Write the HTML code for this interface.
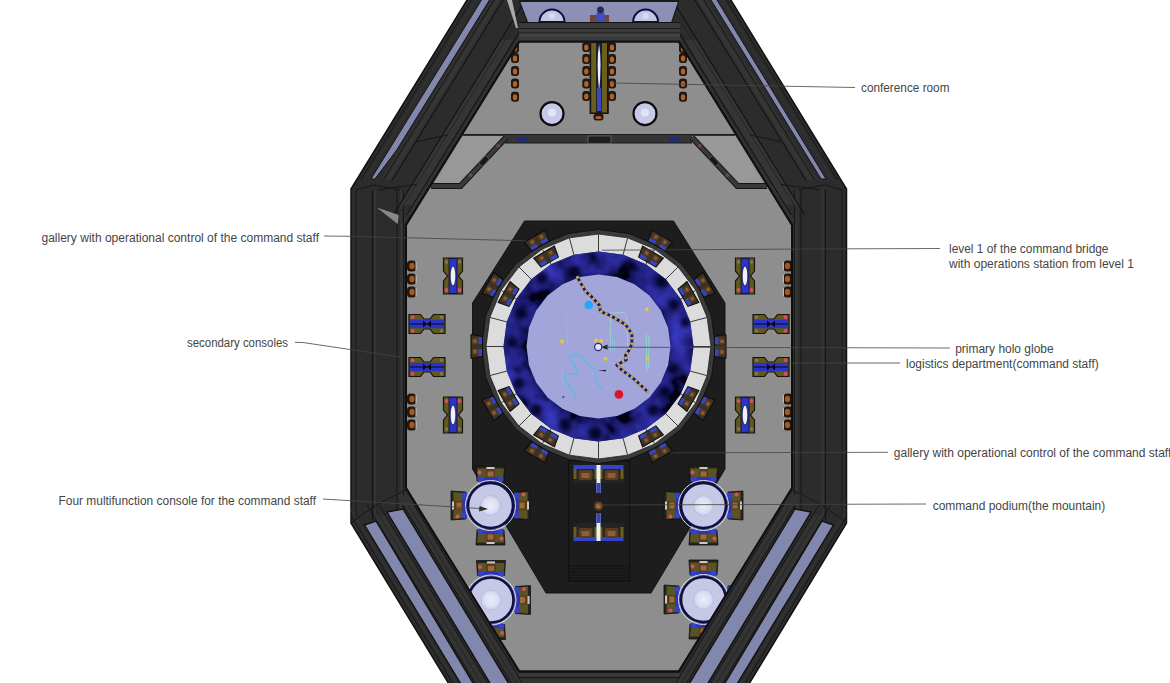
<!DOCTYPE html>
<html><head><meta charset="utf-8"><style>
html,body{margin:0;padding:0;background:#fff;width:1170px;height:683px;overflow:hidden}
svg{display:block}
text{font-family:"Liberation Sans",sans-serif;font-size:12px;fill:#454545}
</style></head><body>
<svg width="1170" height="683" viewBox="0 0 1170 683">
<defs>
<filter id="blur4" x="-30%" y="-30%" width="160%" height="160%"><feGaussianBlur stdDeviation="4"/></filter>
<filter id="blur2" x="-30%" y="-30%" width="160%" height="160%"><feGaussianBlur stdDeviation="2"/></filter>
<filter id="blur1" x="-30%" y="-30%" width="160%" height="160%"><feGaussianBlur stdDeviation="0.7"/></filter>
<radialGradient id="discg"><stop offset="0" stop-color="#eceef9"/><stop offset="0.6" stop-color="#dfe1f4"/><stop offset="1" stop-color="#ccd0ec"/></radialGradient>
</defs>
<rect width="1170" height="683" fill="#fff"/>
<polygon points="519,42 679,42 792,225 792,488 679,671 519,671 406,488 406,225" fill="#8e8e8e" stroke="none" stroke-width="1" />
<rect x="463" y="134" width="272" height="1.8" fill="#1b1b1b" stroke="none" stroke-width="1" />
<rect x="505" y="135" width="187" height="7.5" fill="#353535" stroke="none" stroke-width="1" />
<line x1="505" y1="142.8" x2="692" y2="142.8" stroke="#161616" stroke-width="1.2" />
<rect x="589.6" y="42" width="19.2" height="72" fill="#121212" stroke="none" stroke-width="1" />
<rect x="591.2" y="43" width="5.2" height="69.5" fill="#6b5f1c" stroke="none" stroke-width="1" />
<rect x="601.8" y="43" width="5.2" height="69.5" fill="#6b5f1c" stroke="none" stroke-width="1" />
<rect x="596.4" y="43" width="5.4" height="69.5" fill="#1a1a40" stroke="none" stroke-width="1" />
<path d="M599.1,44 Q602,62 599.1,92 Q596.2,62 599.1,44Z" fill="#eef0ff"/>
<rect x="597" y="88" width="4.2" height="23" fill="#3a47c0" stroke="none" stroke-width="1" />
<g transform="translate(586.3,47) rotate(0)"><rect x="-4" y="-5" width="8" height="10" fill="#22160e" rx="3"/><ellipse cx="0" cy="0.5" rx="2.2" ry="3" fill="#b0642a"/></g>
<g transform="translate(612,47) rotate(0)"><rect x="-4" y="-5" width="8" height="10" fill="#22160e" rx="3"/><ellipse cx="0" cy="0.5" rx="2.2" ry="3" fill="#b0642a"/></g>
<g transform="translate(586.3,59) rotate(0)"><rect x="-4" y="-5" width="8" height="10" fill="#22160e" rx="3"/><ellipse cx="0" cy="0.5" rx="2.2" ry="3" fill="#b0642a"/></g>
<g transform="translate(612,59) rotate(0)"><rect x="-4" y="-5" width="8" height="10" fill="#22160e" rx="3"/><ellipse cx="0" cy="0.5" rx="2.2" ry="3" fill="#b0642a"/></g>
<g transform="translate(586.3,71) rotate(0)"><rect x="-4" y="-5" width="8" height="10" fill="#22160e" rx="3"/><ellipse cx="0" cy="0.5" rx="2.2" ry="3" fill="#b0642a"/></g>
<g transform="translate(612,71) rotate(0)"><rect x="-4" y="-5" width="8" height="10" fill="#22160e" rx="3"/><ellipse cx="0" cy="0.5" rx="2.2" ry="3" fill="#b0642a"/></g>
<g transform="translate(586.3,83.5) rotate(0)"><rect x="-4" y="-5" width="8" height="10" fill="#22160e" rx="3"/><ellipse cx="0" cy="0.5" rx="2.2" ry="3" fill="#b0642a"/></g>
<g transform="translate(612,83.5) rotate(0)"><rect x="-4" y="-5" width="8" height="10" fill="#22160e" rx="3"/><ellipse cx="0" cy="0.5" rx="2.2" ry="3" fill="#b0642a"/></g>
<g transform="translate(586.3,96) rotate(0)"><rect x="-4" y="-5" width="8" height="10" fill="#22160e" rx="3"/><ellipse cx="0" cy="0.5" rx="2.2" ry="3" fill="#b0642a"/></g>
<g transform="translate(612,96) rotate(0)"><rect x="-4" y="-5" width="8" height="10" fill="#22160e" rx="3"/><ellipse cx="0" cy="0.5" rx="2.2" ry="3" fill="#b0642a"/></g>
<g transform="translate(598.5,117) rotate(0)"><rect x="-5" y="-3.5" width="10" height="7" fill="#22160e" rx="3"/><ellipse cx="0" cy="0.5" rx="3.2" ry="1.5" fill="#b0642a"/></g>
<g transform="translate(515,48) rotate(0)"><rect x="-4" y="-5" width="8" height="10" fill="#22160e" rx="3"/><ellipse cx="0" cy="0.5" rx="2.2" ry="3" fill="#b0642a"/></g>
<g transform="translate(683,48) rotate(0)"><rect x="-4" y="-5" width="8" height="10" fill="#22160e" rx="3"/><ellipse cx="0" cy="0.5" rx="2.2" ry="3" fill="#b0642a"/></g>
<g transform="translate(515,58) rotate(0)"><rect x="-4" y="-5" width="8" height="10" fill="#22160e" rx="3"/><ellipse cx="0" cy="0.5" rx="2.2" ry="3" fill="#b0642a"/></g>
<g transform="translate(683,58) rotate(0)"><rect x="-4" y="-5" width="8" height="10" fill="#22160e" rx="3"/><ellipse cx="0" cy="0.5" rx="2.2" ry="3" fill="#b0642a"/></g>
<g transform="translate(515,71) rotate(0)"><rect x="-4" y="-5" width="8" height="10" fill="#22160e" rx="3"/><ellipse cx="0" cy="0.5" rx="2.2" ry="3" fill="#b0642a"/></g>
<g transform="translate(683,71) rotate(0)"><rect x="-4" y="-5" width="8" height="10" fill="#22160e" rx="3"/><ellipse cx="0" cy="0.5" rx="2.2" ry="3" fill="#b0642a"/></g>
<g transform="translate(515,83.6) rotate(0)"><rect x="-4" y="-5" width="8" height="10" fill="#22160e" rx="3"/><ellipse cx="0" cy="0.5" rx="2.2" ry="3" fill="#b0642a"/></g>
<g transform="translate(683,83.6) rotate(0)"><rect x="-4" y="-5" width="8" height="10" fill="#22160e" rx="3"/><ellipse cx="0" cy="0.5" rx="2.2" ry="3" fill="#b0642a"/></g>
<g transform="translate(515,96.8) rotate(0)"><rect x="-4" y="-5" width="8" height="10" fill="#22160e" rx="3"/><ellipse cx="0" cy="0.5" rx="2.2" ry="3" fill="#b0642a"/></g>
<g transform="translate(683,96.8) rotate(0)"><rect x="-4" y="-5" width="8" height="10" fill="#22160e" rx="3"/><ellipse cx="0" cy="0.5" rx="2.2" ry="3" fill="#b0642a"/></g>
<circle cx="552" cy="113.7" r="11.5" fill="#c6c9e8" stroke="#0b0b0b" stroke-width="2.2" />
<circle cx="552" cy="112.5" r="4" fill="#e2e4f6" stroke="none" stroke-width="1" />
<circle cx="645" cy="113.7" r="11.5" fill="#c6c9e8" stroke="#0b0b0b" stroke-width="2.2" />
<circle cx="645" cy="112.5" r="4" fill="#e2e4f6" stroke="none" stroke-width="1" />
<polygon points="463,136 505,136 460,186 433,186" fill="#989898" stroke="none" stroke-width="1" />
<polygon points="735,136 693,136 738,186 765,186" fill="#989898" stroke="none" stroke-width="1" />
<polyline points="506,137.5 460.5,186 431,186" fill="none" stroke="#151515" stroke-width="6" />
<polyline points="692,137.5 737.5,186 767,186" fill="none" stroke="#151515" stroke-width="6" />
<polyline points="506,137.5 460.5,186 431,186" fill="none" stroke="#3a3a3a" stroke-width="4" />
<polyline points="692,137.5 737.5,186 767,186" fill="none" stroke="#3a3a3a" stroke-width="4" />
<circle cx="498.26" cy="145.75" r="2" fill="#6a4848"/>
<circle cx="699.74" cy="145.75" r="2" fill="#6a4848"/>
<circle cx="470.51" cy="175.33" r="2" fill="#6a4848"/>
<circle cx="727.49" cy="175.33" r="2" fill="#6a4848"/>
<g transform="translate(484,161) rotate(-47)"><rect x="-5" y="-2.5" width="10" height="5" fill="#161616" stroke="#777" stroke-width="0.5"/></g>
<g transform="translate(714,161) rotate(47)"><rect x="-5" y="-2.5" width="10" height="5" fill="#161616" stroke="#777" stroke-width="0.5"/></g>
<ellipse cx="522" cy="139.3" rx="6" ry="2.2" fill="#1c2a80"/><ellipse cx="674" cy="139.3" rx="6" ry="2.2" fill="#1c2a80"/>
<rect x="588" y="136" width="23" height="7.5" fill="#1e1e1e" stroke="#6a6a6a" stroke-width="0.8" />
<polygon points="524.5,221 673.5,221 725,303 725,469 651,593 546,593 472.5,469 472.5,303" fill="#1d1d1d" stroke="#141414" stroke-width="1" />
<rect x="568.5" y="461" width="61" height="120" fill="none" stroke="#111" stroke-width="1.3" />
<line x1="569" y1="566" x2="629" y2="566" stroke="#121212" stroke-width="1" />
<line x1="569" y1="569" x2="629" y2="569" stroke="#121212" stroke-width="1" />
<line x1="569" y1="572" x2="629" y2="572" stroke="#121212" stroke-width="1" />
<line x1="569" y1="575" x2="629" y2="575" stroke="#121212" stroke-width="1" />
<line x1="569" y1="578" x2="629" y2="578" stroke="#121212" stroke-width="1" />
<line x1="569" y1="581" x2="629" y2="581" stroke="#121212" stroke-width="1" />
<polygon points="715.5,346.5 711.51,376.78 699.82,405 681.23,429.23 657,447.82 628.78,459.51 598.5,463.5 568.22,459.51 540,447.82 515.77,429.23 497.18,405 485.49,376.78 481.5,346.5 485.49,316.22 497.18,288 515.77,263.77 540,245.18 568.22,233.49 598.5,229.5 628.78,233.49 657,245.18 681.23,263.77 699.82,288 711.51,316.22" fill="#3a3a3a" stroke="#101010" stroke-width="1" />
<polygon points="711,346.5 707.17,375.62 695.93,402.75 678.05,426.05 654.75,443.93 627.62,455.17 598.5,459 569.38,455.17 542.25,443.93 518.95,426.05 501.07,402.75 489.83,375.62 486,346.5 489.83,317.38 501.07,290.25 518.95,266.95 542.25,249.07 569.38,237.83 598.5,234 627.62,237.83 654.75,249.07 678.05,266.95 695.93,290.25 707.17,317.38" fill="#dcdcdc" stroke="#1e1e1e" stroke-width="0.8" />
<line x1="693.5" y1="346.5" x2="711" y2="346.5" stroke="#3a3a3a" stroke-width="1" />
<line x1="690.26" y1="371.09" x2="707.17" y2="375.62" stroke="#3a3a3a" stroke-width="1" />
<line x1="680.77" y1="394" x2="695.93" y2="402.75" stroke="#3a3a3a" stroke-width="1" />
<line x1="665.68" y1="413.68" x2="678.05" y2="426.05" stroke="#3a3a3a" stroke-width="1" />
<line x1="646" y1="428.77" x2="654.75" y2="443.93" stroke="#3a3a3a" stroke-width="1" />
<line x1="623.09" y1="438.26" x2="627.62" y2="455.17" stroke="#3a3a3a" stroke-width="1" />
<line x1="598.5" y1="441.5" x2="598.5" y2="459" stroke="#3a3a3a" stroke-width="1" />
<line x1="573.91" y1="438.26" x2="569.38" y2="455.17" stroke="#3a3a3a" stroke-width="1" />
<line x1="551" y1="428.77" x2="542.25" y2="443.93" stroke="#3a3a3a" stroke-width="1" />
<line x1="531.32" y1="413.68" x2="518.95" y2="426.05" stroke="#3a3a3a" stroke-width="1" />
<line x1="516.23" y1="394" x2="501.07" y2="402.75" stroke="#3a3a3a" stroke-width="1" />
<line x1="506.74" y1="371.09" x2="489.83" y2="375.62" stroke="#3a3a3a" stroke-width="1" />
<line x1="503.5" y1="346.5" x2="486" y2="346.5" stroke="#3a3a3a" stroke-width="1" />
<line x1="506.74" y1="321.91" x2="489.83" y2="317.38" stroke="#3a3a3a" stroke-width="1" />
<line x1="516.23" y1="299" x2="501.07" y2="290.25" stroke="#3a3a3a" stroke-width="1" />
<line x1="531.32" y1="279.32" x2="518.95" y2="266.95" stroke="#3a3a3a" stroke-width="1" />
<line x1="551" y1="264.23" x2="542.25" y2="249.07" stroke="#3a3a3a" stroke-width="1" />
<line x1="573.91" y1="254.74" x2="569.38" y2="237.83" stroke="#3a3a3a" stroke-width="1" />
<line x1="598.5" y1="251.5" x2="598.5" y2="234" stroke="#3a3a3a" stroke-width="1" />
<line x1="623.09" y1="254.74" x2="627.62" y2="237.83" stroke="#3a3a3a" stroke-width="1" />
<line x1="646" y1="264.23" x2="654.75" y2="249.07" stroke="#3a3a3a" stroke-width="1" />
<line x1="665.68" y1="279.32" x2="678.05" y2="266.95" stroke="#3a3a3a" stroke-width="1" />
<line x1="680.77" y1="299" x2="695.93" y2="290.25" stroke="#3a3a3a" stroke-width="1" />
<line x1="690.26" y1="321.91" x2="707.17" y2="317.38" stroke="#3a3a3a" stroke-width="1" />
<clipPath id="ringclip"><polygon points="693.5,346.5 690.26,371.09 680.77,394 665.68,413.68 646,428.77 623.09,438.26 598.5,441.5 573.91,438.26 551,428.77 531.32,413.68 516.23,394 506.74,371.09 503.5,346.5 506.74,321.91 516.23,299 531.32,279.32 551,264.23 573.91,254.74 598.5,251.5 623.09,254.74 646,264.23 665.68,279.32 680.77,299 690.26,321.91"/></clipPath>
<filter id="cloud" x="0" y="0" width="100%" height="100%"><feTurbulence type="fractalNoise" baseFrequency="0.035" numOctaves="3" seed="7" result="n"/><feColorMatrix in="n" type="matrix" values="0.1 0 0 0 -0.03  0.1 0 0 0 -0.03  1.2 0 0 0 -0.36  0 0 0 0 1"/></filter>
<g clip-path="url(#ringclip)">
<rect x="500" y="248" width="197" height="197" fill="#121278"/>
<rect x="500" y="248" width="197" height="197" filter="url(#cloud)" opacity="0.85"/>
<g filter="url(#blur2)">
<circle cx="574" cy="272" r="7" fill="#03031e" stroke="none" stroke-width="1" opacity="0.85"/>
<circle cx="629.8" cy="266.5" r="6" fill="#03031e" stroke="none" stroke-width="1" opacity="0.85"/>
<circle cx="662" cy="281" r="7" fill="#03031e" stroke="none" stroke-width="1" opacity="0.85"/>
<circle cx="673.7" cy="304.6" r="6" fill="#03031e" stroke="none" stroke-width="1" opacity="0.85"/>
<circle cx="685.4" cy="322" r="5" fill="#03031e" stroke="none" stroke-width="1" opacity="0.85"/>
<circle cx="673.7" cy="369" r="6" fill="#03031e" stroke="none" stroke-width="1" opacity="0.85"/>
<circle cx="665" cy="392" r="6" fill="#03031e" stroke="none" stroke-width="1" opacity="0.85"/>
<circle cx="653" cy="410" r="6" fill="#03031e" stroke="none" stroke-width="1" opacity="0.85"/>
<circle cx="594.6" cy="433.4" r="7" fill="#03031e" stroke="none" stroke-width="1" opacity="0.85"/>
<circle cx="565" cy="424.6" r="6" fill="#03031e" stroke="none" stroke-width="1" opacity="0.85"/>
<circle cx="536" cy="410" r="6" fill="#03031e" stroke="none" stroke-width="1" opacity="0.85"/>
<circle cx="518.5" cy="383.6" r="6" fill="#03031e" stroke="none" stroke-width="1" opacity="0.85"/>
<circle cx="512.6" cy="342.6" r="5" fill="#03031e" stroke="none" stroke-width="1" opacity="0.85"/>
<circle cx="521.4" cy="313.4" r="6" fill="#03031e" stroke="none" stroke-width="1" opacity="0.85"/>
<circle cx="542" cy="278" r="6" fill="#03031e" stroke="none" stroke-width="1" opacity="0.85"/>
</g>
</g>
<polygon points="671,346.5 668.53,365.26 661.29,382.75 649.77,397.77 634.75,409.29 617.26,416.53 598.5,419 579.74,416.53 562.25,409.29 547.23,397.77 535.71,382.75 528.47,365.26 526,346.5 528.47,327.74 535.71,310.25 547.23,295.23 562.25,283.71 579.74,276.47 598.5,274 617.26,276.47 634.75,283.71 649.77,295.23 661.29,310.25 668.53,327.74" fill="#000030" stroke="none" stroke-width="1" opacity="0.5" filter="url(#blur2)"/>
<polygon points="670.5,346.5 668.05,365.13 660.85,382.5 649.41,397.41 634.5,408.85 617.13,416.05 598.5,418.5 579.87,416.05 562.5,408.85 547.59,397.41 536.15,382.5 528.95,365.13 526.5,346.5 528.95,327.87 536.15,310.5 547.59,295.59 562.5,284.15 579.87,276.95 598.5,274.5 617.13,276.95 634.5,284.15 649.41,295.59 660.85,310.5 668.05,327.87" fill="#a1a5da" stroke="none" stroke-width="1" />
<g transform="translate(687.7,295) rotate(60)"><path d="M-12,-6 L12,-6 L10,5.5 L-10,5.5 Z" fill="#3a3222" stroke="#0c0c0c" stroke-width="1"/><rect x="-9.5" y="1.5" width="7" height="3.5" fill="#3444c4"/><rect x="2.5" y="1.5" width="7" height="3.5" fill="#3444c4"/><rect x="-8.5" y="-5" width="6.5" height="6" rx="2" fill="#5a3c22"/><rect x="2" y="-5" width="6.5" height="6" rx="2" fill="#5a3c22"/><rect x="-6.5" y="-3.5" width="3" height="3" fill="#8a6030"/><rect x="4" y="-3.5" width="3" height="3" fill="#8a6030"/></g>
<g transform="translate(650,257.3) rotate(30)"><path d="M-12,-6 L12,-6 L10,5.5 L-10,5.5 Z" fill="#3a3222" stroke="#0c0c0c" stroke-width="1"/><rect x="-9.5" y="1.5" width="7" height="3.5" fill="#3444c4"/><rect x="2.5" y="1.5" width="7" height="3.5" fill="#3444c4"/><rect x="-8.5" y="-5" width="6.5" height="6" rx="2" fill="#5a3c22"/><rect x="2" y="-5" width="6.5" height="6" rx="2" fill="#5a3c22"/><rect x="-6.5" y="-3.5" width="3" height="3" fill="#8a6030"/><rect x="4" y="-3.5" width="3" height="3" fill="#8a6030"/></g>
<g transform="translate(547,257.3) rotate(-30)"><path d="M-12,-6 L12,-6 L10,5.5 L-10,5.5 Z" fill="#3a3222" stroke="#0c0c0c" stroke-width="1"/><rect x="-9.5" y="1.5" width="7" height="3.5" fill="#3444c4"/><rect x="2.5" y="1.5" width="7" height="3.5" fill="#3444c4"/><rect x="-8.5" y="-5" width="6.5" height="6" rx="2" fill="#5a3c22"/><rect x="2" y="-5" width="6.5" height="6" rx="2" fill="#5a3c22"/><rect x="-6.5" y="-3.5" width="3" height="3" fill="#8a6030"/><rect x="4" y="-3.5" width="3" height="3" fill="#8a6030"/></g>
<g transform="translate(509.3,295) rotate(-60)"><path d="M-12,-6 L12,-6 L10,5.5 L-10,5.5 Z" fill="#3a3222" stroke="#0c0c0c" stroke-width="1"/><rect x="-9.5" y="1.5" width="7" height="3.5" fill="#3444c4"/><rect x="2.5" y="1.5" width="7" height="3.5" fill="#3444c4"/><rect x="-8.5" y="-5" width="6.5" height="6" rx="2" fill="#5a3c22"/><rect x="2" y="-5" width="6.5" height="6" rx="2" fill="#5a3c22"/><rect x="-6.5" y="-3.5" width="3" height="3" fill="#8a6030"/><rect x="4" y="-3.5" width="3" height="3" fill="#8a6030"/></g>
<g transform="translate(509.3,398) rotate(-120)"><path d="M-12,-6 L12,-6 L10,5.5 L-10,5.5 Z" fill="#3a3222" stroke="#0c0c0c" stroke-width="1"/><rect x="-9.5" y="1.5" width="7" height="3.5" fill="#3444c4"/><rect x="2.5" y="1.5" width="7" height="3.5" fill="#3444c4"/><rect x="-8.5" y="-5" width="6.5" height="6" rx="2" fill="#5a3c22"/><rect x="2" y="-5" width="6.5" height="6" rx="2" fill="#5a3c22"/><rect x="-6.5" y="-3.5" width="3" height="3" fill="#8a6030"/><rect x="4" y="-3.5" width="3" height="3" fill="#8a6030"/></g>
<g transform="translate(547,435.7) rotate(-150)"><path d="M-12,-6 L12,-6 L10,5.5 L-10,5.5 Z" fill="#3a3222" stroke="#0c0c0c" stroke-width="1"/><rect x="-9.5" y="1.5" width="7" height="3.5" fill="#3444c4"/><rect x="2.5" y="1.5" width="7" height="3.5" fill="#3444c4"/><rect x="-8.5" y="-5" width="6.5" height="6" rx="2" fill="#5a3c22"/><rect x="2" y="-5" width="6.5" height="6" rx="2" fill="#5a3c22"/><rect x="-6.5" y="-3.5" width="3" height="3" fill="#8a6030"/><rect x="4" y="-3.5" width="3" height="3" fill="#8a6030"/></g>
<g transform="translate(650,435.7) rotate(-210)"><path d="M-12,-6 L12,-6 L10,5.5 L-10,5.5 Z" fill="#3a3222" stroke="#0c0c0c" stroke-width="1"/><rect x="-9.5" y="1.5" width="7" height="3.5" fill="#3444c4"/><rect x="2.5" y="1.5" width="7" height="3.5" fill="#3444c4"/><rect x="-8.5" y="-5" width="6.5" height="6" rx="2" fill="#5a3c22"/><rect x="2" y="-5" width="6.5" height="6" rx="2" fill="#5a3c22"/><rect x="-6.5" y="-3.5" width="3" height="3" fill="#8a6030"/><rect x="4" y="-3.5" width="3" height="3" fill="#8a6030"/></g>
<g transform="translate(687.7,398) rotate(-240)"><path d="M-12,-6 L12,-6 L10,5.5 L-10,5.5 Z" fill="#3a3222" stroke="#0c0c0c" stroke-width="1"/><rect x="-9.5" y="1.5" width="7" height="3.5" fill="#3444c4"/><rect x="2.5" y="1.5" width="7" height="3.5" fill="#3444c4"/><rect x="-8.5" y="-5" width="6.5" height="6" rx="2" fill="#5a3c22"/><rect x="2" y="-5" width="6.5" height="6" rx="2" fill="#5a3c22"/><rect x="-6.5" y="-3.5" width="3" height="3" fill="#8a6030"/><rect x="4" y="-3.5" width="3" height="3" fill="#8a6030"/></g>
<g transform="translate(720,346.5) rotate(90)"><path d="M-12,-6 L12,-6 L10,5.5 L-10,5.5 Z" fill="#3a3222" stroke="#0c0c0c" stroke-width="1"/><rect x="-9.5" y="1.5" width="7" height="3.5" fill="#3444c4"/><rect x="2.5" y="1.5" width="7" height="3.5" fill="#3444c4"/><rect x="-8.5" y="-5" width="6.5" height="6" rx="2" fill="#5a3c22"/><rect x="2" y="-5" width="6.5" height="6" rx="2" fill="#5a3c22"/><rect x="-6.5" y="-3.5" width="3" height="3" fill="#8a6030"/><rect x="4" y="-3.5" width="3" height="3" fill="#8a6030"/></g>
<g transform="translate(703.72,285.75) rotate(60)"><path d="M-12,-6 L12,-6 L10,5.5 L-10,5.5 Z" fill="#3a3222" stroke="#0c0c0c" stroke-width="1"/><rect x="-9.5" y="1.5" width="7" height="3.5" fill="#3444c4"/><rect x="2.5" y="1.5" width="7" height="3.5" fill="#3444c4"/><rect x="-8.5" y="-5" width="6.5" height="6" rx="2" fill="#5a3c22"/><rect x="2" y="-5" width="6.5" height="6" rx="2" fill="#5a3c22"/><rect x="-6.5" y="-3.5" width="3" height="3" fill="#8a6030"/><rect x="4" y="-3.5" width="3" height="3" fill="#8a6030"/></g>
<g transform="translate(659.25,241.28) rotate(30)"><path d="M-12,-6 L12,-6 L10,5.5 L-10,5.5 Z" fill="#3a3222" stroke="#0c0c0c" stroke-width="1"/><rect x="-9.5" y="1.5" width="7" height="3.5" fill="#3444c4"/><rect x="2.5" y="1.5" width="7" height="3.5" fill="#3444c4"/><rect x="-8.5" y="-5" width="6.5" height="6" rx="2" fill="#5a3c22"/><rect x="2" y="-5" width="6.5" height="6" rx="2" fill="#5a3c22"/><rect x="-6.5" y="-3.5" width="3" height="3" fill="#8a6030"/><rect x="4" y="-3.5" width="3" height="3" fill="#8a6030"/></g>
<g transform="translate(537.75,241.28) rotate(-30)"><path d="M-12,-6 L12,-6 L10,5.5 L-10,5.5 Z" fill="#3a3222" stroke="#0c0c0c" stroke-width="1"/><rect x="-9.5" y="1.5" width="7" height="3.5" fill="#3444c4"/><rect x="2.5" y="1.5" width="7" height="3.5" fill="#3444c4"/><rect x="-8.5" y="-5" width="6.5" height="6" rx="2" fill="#5a3c22"/><rect x="2" y="-5" width="6.5" height="6" rx="2" fill="#5a3c22"/><rect x="-6.5" y="-3.5" width="3" height="3" fill="#8a6030"/><rect x="4" y="-3.5" width="3" height="3" fill="#8a6030"/></g>
<g transform="translate(493.28,285.75) rotate(-60)"><path d="M-12,-6 L12,-6 L10,5.5 L-10,5.5 Z" fill="#3a3222" stroke="#0c0c0c" stroke-width="1"/><rect x="-9.5" y="1.5" width="7" height="3.5" fill="#3444c4"/><rect x="2.5" y="1.5" width="7" height="3.5" fill="#3444c4"/><rect x="-8.5" y="-5" width="6.5" height="6" rx="2" fill="#5a3c22"/><rect x="2" y="-5" width="6.5" height="6" rx="2" fill="#5a3c22"/><rect x="-6.5" y="-3.5" width="3" height="3" fill="#8a6030"/><rect x="4" y="-3.5" width="3" height="3" fill="#8a6030"/></g>
<g transform="translate(477,346.5) rotate(-90)"><path d="M-12,-6 L12,-6 L10,5.5 L-10,5.5 Z" fill="#3a3222" stroke="#0c0c0c" stroke-width="1"/><rect x="-9.5" y="1.5" width="7" height="3.5" fill="#3444c4"/><rect x="2.5" y="1.5" width="7" height="3.5" fill="#3444c4"/><rect x="-8.5" y="-5" width="6.5" height="6" rx="2" fill="#5a3c22"/><rect x="2" y="-5" width="6.5" height="6" rx="2" fill="#5a3c22"/><rect x="-6.5" y="-3.5" width="3" height="3" fill="#8a6030"/><rect x="4" y="-3.5" width="3" height="3" fill="#8a6030"/></g>
<g transform="translate(493.28,407.25) rotate(-120)"><path d="M-12,-6 L12,-6 L10,5.5 L-10,5.5 Z" fill="#3a3222" stroke="#0c0c0c" stroke-width="1"/><rect x="-9.5" y="1.5" width="7" height="3.5" fill="#3444c4"/><rect x="2.5" y="1.5" width="7" height="3.5" fill="#3444c4"/><rect x="-8.5" y="-5" width="6.5" height="6" rx="2" fill="#5a3c22"/><rect x="2" y="-5" width="6.5" height="6" rx="2" fill="#5a3c22"/><rect x="-6.5" y="-3.5" width="3" height="3" fill="#8a6030"/><rect x="4" y="-3.5" width="3" height="3" fill="#8a6030"/></g>
<g transform="translate(537.75,451.72) rotate(-150)"><path d="M-12,-6 L12,-6 L10,5.5 L-10,5.5 Z" fill="#3a3222" stroke="#0c0c0c" stroke-width="1"/><rect x="-9.5" y="1.5" width="7" height="3.5" fill="#3444c4"/><rect x="2.5" y="1.5" width="7" height="3.5" fill="#3444c4"/><rect x="-8.5" y="-5" width="6.5" height="6" rx="2" fill="#5a3c22"/><rect x="2" y="-5" width="6.5" height="6" rx="2" fill="#5a3c22"/><rect x="-6.5" y="-3.5" width="3" height="3" fill="#8a6030"/><rect x="4" y="-3.5" width="3" height="3" fill="#8a6030"/></g>
<g transform="translate(659.25,451.72) rotate(-210)"><path d="M-12,-6 L12,-6 L10,5.5 L-10,5.5 Z" fill="#3a3222" stroke="#0c0c0c" stroke-width="1"/><rect x="-9.5" y="1.5" width="7" height="3.5" fill="#3444c4"/><rect x="2.5" y="1.5" width="7" height="3.5" fill="#3444c4"/><rect x="-8.5" y="-5" width="6.5" height="6" rx="2" fill="#5a3c22"/><rect x="2" y="-5" width="6.5" height="6" rx="2" fill="#5a3c22"/><rect x="-6.5" y="-3.5" width="3" height="3" fill="#8a6030"/><rect x="4" y="-3.5" width="3" height="3" fill="#8a6030"/></g>
<g transform="translate(703.72,407.25) rotate(-240)"><path d="M-12,-6 L12,-6 L10,5.5 L-10,5.5 Z" fill="#3a3222" stroke="#0c0c0c" stroke-width="1"/><rect x="-9.5" y="1.5" width="7" height="3.5" fill="#3444c4"/><rect x="2.5" y="1.5" width="7" height="3.5" fill="#3444c4"/><rect x="-8.5" y="-5" width="6.5" height="6" rx="2" fill="#5a3c22"/><rect x="2" y="-5" width="6.5" height="6" rx="2" fill="#5a3c22"/><rect x="-6.5" y="-3.5" width="3" height="3" fill="#8a6030"/><rect x="4" y="-3.5" width="3" height="3" fill="#8a6030"/></g>
<path d="M610.4,350.3 L610.4,313.4 L623.7,312.4 L626.8,318 L628,352" fill="none" stroke="#9ee0c8" stroke-width="1" opacity="0.7"/>
<path d="M646.3,334 L646.8,372 M648.8,336 L648.6,368" fill="none" stroke="#90e0c0" stroke-width="1.1" opacity="0.75"/>
<path d="M612.5,338 L612.5,353 M614.5,340 L614.5,352" fill="none" stroke="#8ad0e8" stroke-width="0.9" opacity="0.6"/>
<path d="M566,312 L568,350 M562,356 L563,385" fill="none" stroke="#9cc8e8" stroke-width="0.8" opacity="0.35"/>
<path d="M576.9,276.3 L585.6,291.6 L590.7,295.7 L600,306 L600.1,311.2 L610.4,315.5 L625.7,324.7 L631.9,334 L631.9,344.2 L628.5,351 L625.5,355 L626.4,359.7 L616.7,365 L622,370.2 L635.1,379.9 L648.3,392.2" fill="none" stroke="#1c1c5c" stroke-width="2.8" stroke-linejoin="round"/>
<path d="M576.9,276.3 L585.6,291.6 L590.7,295.7 L600,306 L600.1,311.2 L610.4,315.5 L625.7,324.7 L631.9,334 L631.9,344.2 L628.5,351 L625.5,355 L626.4,359.7 L616.7,365 L622,370.2 L635.1,379.9 L648.3,392.2" fill="none" stroke="#c8b04c" stroke-width="2.8" stroke-dasharray="2.6 2.8"/>
<path d="M602.3,390.2 L596.1,381 L595.1,368.7 L583.8,360.5 L580.7,355.4 L570.5,355.4 L569.5,359.5 L574.6,365.6 L577.7,373.8 L566.4,373.8 L564.3,377.9 L570.5,388.2 L575.6,395.3 L575.6,399.4" fill="none" stroke="#5cbce6" stroke-width="1.6" stroke-linejoin="round" opacity="0.95"/>
<circle cx="588.7" cy="305" r="4.3" fill="#22a8f4" stroke="none" stroke-width="1" />
<circle cx="618.9" cy="394.4" r="4.3" fill="#e01028" stroke="none" stroke-width="1" />
<circle cx="646.8" cy="309.3" r="2" fill="#e4cc30" stroke="none" stroke-width="1" />
<circle cx="562" cy="341.4" r="2" fill="#e4cc30" stroke="none" stroke-width="1" />
<circle cx="605.7" cy="358.8" r="2" fill="#e4cc30" stroke="none" stroke-width="1" />
<circle cx="596" cy="340.5" r="2" fill="#e4cc30" stroke="none" stroke-width="1" />
<circle cx="601.1" cy="341.1" r="2" fill="#e4cc30" stroke="none" stroke-width="1" />
<circle cx="647.5" cy="358.5" r="2" fill="#e4cc30" stroke="none" stroke-width="1" />
<circle cx="563.3" cy="396.9" r="1.2" fill="#4a5aa0" stroke="none" stroke-width="1" />
<path d="M598,370.6 L606,369.8 L606,371.4 Z" fill="#203040"/>
<circle cx="598.2" cy="347" r="3.6" fill="#e4e6fa" stroke="#2a2a70" stroke-width="1.2" />
<path d="M601.5,347.2 L607.5,344.6 L607.5,349.8 Z" fill="#202020"/>
<g transform="translate(585.5,474)"><rect x="-12" y="-9" width="24" height="18" fill="#242424"/><rect x="-12" y="-9" width="24" height="4" fill="#3444c4"/><rect x="-7" y="-4" width="14" height="10" rx="2" fill="#5a3c22"/><rect x="-4" y="-1" width="8" height="5" fill="#8a6030"/><rect x="-12" y="-5" width="3" height="10" fill="#6b5f1c"/><rect x="9" y="-5" width="3" height="10" fill="#6b5f1c"/></g>
<g transform="translate(585.5,532)"><rect x="-12" y="-9" width="24" height="18" fill="#242424"/><rect x="-12" y="5" width="24" height="4" fill="#3444c4"/><rect x="-7" y="-4" width="14" height="10" rx="2" fill="#5a3c22"/><rect x="-4" y="-1" width="8" height="5" fill="#8a6030"/><rect x="-12" y="-5" width="3" height="10" fill="#6b5f1c"/><rect x="9" y="-5" width="3" height="10" fill="#6b5f1c"/></g>
<g transform="translate(611.5,474)"><rect x="-12" y="-9" width="24" height="18" fill="#242424"/><rect x="-12" y="-9" width="24" height="4" fill="#3444c4"/><rect x="-7" y="-4" width="14" height="10" rx="2" fill="#5a3c22"/><rect x="-4" y="-1" width="8" height="5" fill="#8a6030"/><rect x="-12" y="-5" width="3" height="10" fill="#6b5f1c"/><rect x="9" y="-5" width="3" height="10" fill="#6b5f1c"/></g>
<g transform="translate(611.5,532)"><rect x="-12" y="-9" width="24" height="18" fill="#242424"/><rect x="-12" y="5" width="24" height="4" fill="#3444c4"/><rect x="-7" y="-4" width="14" height="10" rx="2" fill="#5a3c22"/><rect x="-4" y="-1" width="8" height="5" fill="#8a6030"/><rect x="-12" y="-5" width="3" height="10" fill="#6b5f1c"/><rect x="9" y="-5" width="3" height="10" fill="#6b5f1c"/></g>
<rect x="596.5" y="465" width="4" height="28" fill="#eeeeee" stroke="none" stroke-width="1" />
<rect x="596.5" y="483" width="4" height="10" fill="#3444c4" stroke="none" stroke-width="1" />
<rect x="596.5" y="513" width="4" height="28" fill="#eeeeee" stroke="none" stroke-width="1" />
<rect x="596.5" y="513" width="4" height="10" fill="#3444c4" stroke="none" stroke-width="1" />
<circle cx="598.5" cy="506" r="5" fill="#5a3c22" stroke="#222" stroke-width="1" />
<circle cx="598.5" cy="506" r="2.5" fill="#a07040" stroke="none" stroke-width="1" />
<g transform="translate(453,276) scale(1,1)"><path d="M-9.5,-18 L9.5,-18 L9.5,-5 L5.5,0 L9.5,5 L9.5,18 L-9.5,18 L-9.5,5 L-5.5,0 L-9.5,-5 Z" fill="#62581e" stroke="#15150c" stroke-width="1.2"/><rect x="-4" y="-17.5" width="8" height="35" fill="#2c34c8" stroke="#101030" stroke-width="0.8"/><ellipse cx="0" cy="0" rx="2.8" ry="10" fill="#eef0ff" stroke="#111" stroke-width="0.7"/><circle cx="-6.5" cy="14" r="1.9" fill="#d85060"/><circle cx="6.5" cy="14" r="1.9" fill="#d85060"/><circle cx="-6.5" cy="-14" r="1.7" fill="#7a7a60"/><circle cx="6.5" cy="-14" r="1.7" fill="#7a7a60"/></g>
<g transform="translate(453,415) scale(1,-1)"><path d="M-9.5,-18 L9.5,-18 L9.5,-5 L5.5,0 L9.5,5 L9.5,18 L-9.5,18 L-9.5,5 L-5.5,0 L-9.5,-5 Z" fill="#62581e" stroke="#15150c" stroke-width="1.2"/><rect x="-4" y="-17.5" width="8" height="35" fill="#2c34c8" stroke="#101030" stroke-width="0.8"/><ellipse cx="0" cy="0" rx="2.8" ry="10" fill="#eef0ff" stroke="#111" stroke-width="0.7"/><circle cx="-6.5" cy="14" r="1.9" fill="#d85060"/><circle cx="6.5" cy="14" r="1.9" fill="#d85060"/><circle cx="-6.5" cy="-14" r="1.7" fill="#7a7a60"/><circle cx="6.5" cy="-14" r="1.7" fill="#7a7a60"/></g>
<g transform="translate(745,276) scale(1,1)"><path d="M-9.5,-18 L9.5,-18 L9.5,-5 L5.5,0 L9.5,5 L9.5,18 L-9.5,18 L-9.5,5 L-5.5,0 L-9.5,-5 Z" fill="#62581e" stroke="#15150c" stroke-width="1.2"/><rect x="-4" y="-17.5" width="8" height="35" fill="#2c34c8" stroke="#101030" stroke-width="0.8"/><ellipse cx="0" cy="0" rx="2.8" ry="10" fill="#eef0ff" stroke="#111" stroke-width="0.7"/><circle cx="-6.5" cy="14" r="1.9" fill="#d85060"/><circle cx="6.5" cy="14" r="1.9" fill="#d85060"/><circle cx="-6.5" cy="-14" r="1.7" fill="#7a7a60"/><circle cx="6.5" cy="-14" r="1.7" fill="#7a7a60"/></g>
<g transform="translate(745,415) scale(1,-1)"><path d="M-9.5,-18 L9.5,-18 L9.5,-5 L5.5,0 L9.5,5 L9.5,18 L-9.5,18 L-9.5,5 L-5.5,0 L-9.5,-5 Z" fill="#62581e" stroke="#15150c" stroke-width="1.2"/><rect x="-4" y="-17.5" width="8" height="35" fill="#2c34c8" stroke="#101030" stroke-width="0.8"/><ellipse cx="0" cy="0" rx="2.8" ry="10" fill="#eef0ff" stroke="#111" stroke-width="0.7"/><circle cx="-6.5" cy="14" r="1.9" fill="#d85060"/><circle cx="6.5" cy="14" r="1.9" fill="#d85060"/><circle cx="-6.5" cy="-14" r="1.7" fill="#7a7a60"/><circle cx="6.5" cy="-14" r="1.7" fill="#7a7a60"/></g>
<g transform="translate(427,324) scale(1,1)"><path d="M-18,-9.5 L-6.5,-9.5 L-3,-5 L3,-5 L6.5,-9.5 L18,-9.5 L18,9.5 L6.5,9.5 L3,5 L-3,5 L-6.5,9.5 L-18,9.5 Z" fill="#62581e" stroke="#15150c" stroke-width="1.2"/><rect x="-17" y="-4.2" width="34" height="8.4" fill="#2c34c8"/><rect x="-17" y="-0.6" width="34" height="1.2" fill="#101030"/><path d="M-4,-3.5 L0,0 L-4,3.5 Z M4,-3.5 L0,0 L4,3.5 Z" fill="#0a0a14"/><circle cx="-14.5" cy="-6.8" r="1.9" fill="#d85060"/><circle cx="-14.5" cy="6.8" r="1.9" fill="#d85060"/><circle cx="14.5" cy="-6.8" r="1.7" fill="#7a7a60"/><circle cx="14.5" cy="6.8" r="1.7" fill="#7a7a60"/></g>
<g transform="translate(427,367) scale(1,1)"><path d="M-18,-9.5 L-6.5,-9.5 L-3,-5 L3,-5 L6.5,-9.5 L18,-9.5 L18,9.5 L6.5,9.5 L3,5 L-3,5 L-6.5,9.5 L-18,9.5 Z" fill="#62581e" stroke="#15150c" stroke-width="1.2"/><rect x="-17" y="-4.2" width="34" height="8.4" fill="#2c34c8"/><rect x="-17" y="-0.6" width="34" height="1.2" fill="#101030"/><path d="M-4,-3.5 L0,0 L-4,3.5 Z M4,-3.5 L0,0 L4,3.5 Z" fill="#0a0a14"/><circle cx="-14.5" cy="-6.8" r="1.9" fill="#d85060"/><circle cx="-14.5" cy="6.8" r="1.9" fill="#d85060"/><circle cx="14.5" cy="-6.8" r="1.7" fill="#7a7a60"/><circle cx="14.5" cy="6.8" r="1.7" fill="#7a7a60"/></g>
<g transform="translate(771,324) scale(-1,1)"><path d="M-18,-9.5 L-6.5,-9.5 L-3,-5 L3,-5 L6.5,-9.5 L18,-9.5 L18,9.5 L6.5,9.5 L3,5 L-3,5 L-6.5,9.5 L-18,9.5 Z" fill="#62581e" stroke="#15150c" stroke-width="1.2"/><rect x="-17" y="-4.2" width="34" height="8.4" fill="#2c34c8"/><rect x="-17" y="-0.6" width="34" height="1.2" fill="#101030"/><path d="M-4,-3.5 L0,0 L-4,3.5 Z M4,-3.5 L0,0 L4,3.5 Z" fill="#0a0a14"/><circle cx="-14.5" cy="-6.8" r="1.9" fill="#d85060"/><circle cx="-14.5" cy="6.8" r="1.9" fill="#d85060"/><circle cx="14.5" cy="-6.8" r="1.7" fill="#7a7a60"/><circle cx="14.5" cy="6.8" r="1.7" fill="#7a7a60"/></g>
<g transform="translate(771,367) scale(-1,1)"><path d="M-18,-9.5 L-6.5,-9.5 L-3,-5 L3,-5 L6.5,-9.5 L18,-9.5 L18,9.5 L6.5,9.5 L3,5 L-3,5 L-6.5,9.5 L-18,9.5 Z" fill="#62581e" stroke="#15150c" stroke-width="1.2"/><rect x="-17" y="-4.2" width="34" height="8.4" fill="#2c34c8"/><rect x="-17" y="-0.6" width="34" height="1.2" fill="#101030"/><path d="M-4,-3.5 L0,0 L-4,3.5 Z M4,-3.5 L0,0 L4,3.5 Z" fill="#0a0a14"/><circle cx="-14.5" cy="-6.8" r="1.9" fill="#d85060"/><circle cx="-14.5" cy="6.8" r="1.9" fill="#d85060"/><circle cx="14.5" cy="-6.8" r="1.7" fill="#7a7a60"/><circle cx="14.5" cy="6.8" r="1.7" fill="#7a7a60"/></g>
<g transform="translate(411.5,266) scale(1,1)"><rect x="-4.5" y="-5.5" width="9" height="11" rx="3.5" fill="#22160e"/><ellipse cx="0.5" cy="0" rx="2.6" ry="3.2" fill="#a05a22"/><rect x="4" y="-4" width="1.2" height="8" fill="#b8b8b8"/></g>
<g transform="translate(788,266) scale(-1,1)"><rect x="-4.5" y="-5.5" width="9" height="11" rx="3.5" fill="#22160e"/><ellipse cx="0.5" cy="0" rx="2.6" ry="3.2" fill="#a05a22"/><rect x="4" y="-4" width="1.2" height="8" fill="#b8b8b8"/></g>
<g transform="translate(411.5,279) scale(1,1)"><rect x="-4.5" y="-5.5" width="9" height="11" rx="3.5" fill="#22160e"/><ellipse cx="0.5" cy="0" rx="2.6" ry="3.2" fill="#a05a22"/><rect x="4" y="-4" width="1.2" height="8" fill="#b8b8b8"/></g>
<g transform="translate(788,279) scale(-1,1)"><rect x="-4.5" y="-5.5" width="9" height="11" rx="3.5" fill="#22160e"/><ellipse cx="0.5" cy="0" rx="2.6" ry="3.2" fill="#a05a22"/><rect x="4" y="-4" width="1.2" height="8" fill="#b8b8b8"/></g>
<g transform="translate(411.5,292) scale(1,1)"><rect x="-4.5" y="-5.5" width="9" height="11" rx="3.5" fill="#22160e"/><ellipse cx="0.5" cy="0" rx="2.6" ry="3.2" fill="#a05a22"/><rect x="4" y="-4" width="1.2" height="8" fill="#b8b8b8"/></g>
<g transform="translate(788,292) scale(-1,1)"><rect x="-4.5" y="-5.5" width="9" height="11" rx="3.5" fill="#22160e"/><ellipse cx="0.5" cy="0" rx="2.6" ry="3.2" fill="#a05a22"/><rect x="4" y="-4" width="1.2" height="8" fill="#b8b8b8"/></g>
<g transform="translate(411.5,399) scale(1,1)"><rect x="-4.5" y="-5.5" width="9" height="11" rx="3.5" fill="#22160e"/><ellipse cx="0.5" cy="0" rx="2.6" ry="3.2" fill="#a05a22"/><rect x="4" y="-4" width="1.2" height="8" fill="#b8b8b8"/></g>
<g transform="translate(788,399) scale(-1,1)"><rect x="-4.5" y="-5.5" width="9" height="11" rx="3.5" fill="#22160e"/><ellipse cx="0.5" cy="0" rx="2.6" ry="3.2" fill="#a05a22"/><rect x="4" y="-4" width="1.2" height="8" fill="#b8b8b8"/></g>
<g transform="translate(411.5,412) scale(1,1)"><rect x="-4.5" y="-5.5" width="9" height="11" rx="3.5" fill="#22160e"/><ellipse cx="0.5" cy="0" rx="2.6" ry="3.2" fill="#a05a22"/><rect x="4" y="-4" width="1.2" height="8" fill="#b8b8b8"/></g>
<g transform="translate(788,412) scale(-1,1)"><rect x="-4.5" y="-5.5" width="9" height="11" rx="3.5" fill="#22160e"/><ellipse cx="0.5" cy="0" rx="2.6" ry="3.2" fill="#a05a22"/><rect x="4" y="-4" width="1.2" height="8" fill="#b8b8b8"/></g>
<g transform="translate(411.5,425) scale(1,1)"><rect x="-4.5" y="-5.5" width="9" height="11" rx="3.5" fill="#22160e"/><ellipse cx="0.5" cy="0" rx="2.6" ry="3.2" fill="#a05a22"/><rect x="4" y="-4" width="1.2" height="8" fill="#b8b8b8"/></g>
<g transform="translate(788,425) scale(-1,1)"><rect x="-4.5" y="-5.5" width="9" height="11" rx="3.5" fill="#22160e"/><ellipse cx="0.5" cy="0" rx="2.6" ry="3.2" fill="#a05a22"/><rect x="4" y="-4" width="1.2" height="8" fill="#b8b8b8"/></g>
<g transform="translate(490.5,505.5)"><g transform="rotate(0)"><path d="M-14.5,-39.5 L14.5,-39.5 L13.5,-24.5 L-13.5,-24.5 Z" fill="#26241a" stroke="#111" stroke-width="0.8"/><path d="M-13.5,-37 L-4,-37 L-4,-27 L-12.5,-27 Z" fill="#5a5424"/><path d="M4,-37 L13.5,-37 L12.5,-27 L4,-27 Z" fill="#5a5424"/><rect x="-4.5" y="-38.5" width="9" height="11.5" rx="1.5" fill="#5a3a20"/><rect x="-3" y="-34" width="6" height="5" fill="#9a6a38"/><rect x="-4" y="-38.5" width="8" height="2" fill="#c8c8c8"/><circle cx="-11" cy="-33" r="2" fill="#d85060"/><rect x="-13" y="-28" width="26" height="4" rx="2" fill="#2a36b8"/><circle cx="-10" cy="-26" r="3" fill="#3440d0"/><circle cx="10" cy="-26" r="3" fill="#3440d0"/></g><g transform="rotate(90)"><path d="M-14.5,-39.5 L14.5,-39.5 L13.5,-24.5 L-13.5,-24.5 Z" fill="#26241a" stroke="#111" stroke-width="0.8"/><path d="M-13.5,-37 L-4,-37 L-4,-27 L-12.5,-27 Z" fill="#5a5424"/><path d="M4,-37 L13.5,-37 L12.5,-27 L4,-27 Z" fill="#5a5424"/><rect x="-4.5" y="-38.5" width="9" height="11.5" rx="1.5" fill="#5a3a20"/><rect x="-3" y="-34" width="6" height="5" fill="#9a6a38"/><rect x="-4" y="-38.5" width="8" height="2" fill="#c8c8c8"/><circle cx="-11" cy="-33" r="2" fill="#d85060"/><rect x="-13" y="-28" width="26" height="4" rx="2" fill="#2a36b8"/><circle cx="-10" cy="-26" r="3" fill="#3440d0"/><circle cx="10" cy="-26" r="3" fill="#3440d0"/></g><g transform="rotate(180)"><path d="M-14.5,-39.5 L14.5,-39.5 L13.5,-24.5 L-13.5,-24.5 Z" fill="#26241a" stroke="#111" stroke-width="0.8"/><path d="M-13.5,-37 L-4,-37 L-4,-27 L-12.5,-27 Z" fill="#5a5424"/><path d="M4,-37 L13.5,-37 L12.5,-27 L4,-27 Z" fill="#5a5424"/><rect x="-4.5" y="-38.5" width="9" height="11.5" rx="1.5" fill="#5a3a20"/><rect x="-3" y="-34" width="6" height="5" fill="#9a6a38"/><rect x="-4" y="-38.5" width="8" height="2" fill="#c8c8c8"/><circle cx="-11" cy="-33" r="2" fill="#d85060"/><rect x="-13" y="-28" width="26" height="4" rx="2" fill="#2a36b8"/><circle cx="-10" cy="-26" r="3" fill="#3440d0"/><circle cx="10" cy="-26" r="3" fill="#3440d0"/></g><g transform="rotate(270)"><path d="M-14.5,-39.5 L14.5,-39.5 L13.5,-24.5 L-13.5,-24.5 Z" fill="#26241a" stroke="#111" stroke-width="0.8"/><path d="M-13.5,-37 L-4,-37 L-4,-27 L-12.5,-27 Z" fill="#5a5424"/><path d="M4,-37 L13.5,-37 L12.5,-27 L4,-27 Z" fill="#5a5424"/><rect x="-4.5" y="-38.5" width="9" height="11.5" rx="1.5" fill="#5a3a20"/><rect x="-3" y="-34" width="6" height="5" fill="#9a6a38"/><rect x="-4" y="-38.5" width="8" height="2" fill="#c8c8c8"/><circle cx="-11" cy="-33" r="2" fill="#d85060"/><rect x="-13" y="-28" width="26" height="4" rx="2" fill="#2a36b8"/><circle cx="-10" cy="-26" r="3" fill="#3440d0"/><circle cx="10" cy="-26" r="3" fill="#3440d0"/></g><circle r="25" fill="none" stroke="#e0e0e0" stroke-width="1"/><circle r="22.5" fill="#c6c9e6" stroke="#0e0e48" stroke-width="2.6"/><circle r="10" fill="url(#discg)" stroke="#b4b8dc" stroke-width="0.8"/></g>
<g transform="translate(703.5,505.5)"><g transform="rotate(0)"><path d="M-14.5,-39.5 L14.5,-39.5 L13.5,-24.5 L-13.5,-24.5 Z" fill="#26241a" stroke="#111" stroke-width="0.8"/><path d="M-13.5,-37 L-4,-37 L-4,-27 L-12.5,-27 Z" fill="#5a5424"/><path d="M4,-37 L13.5,-37 L12.5,-27 L4,-27 Z" fill="#5a5424"/><rect x="-4.5" y="-38.5" width="9" height="11.5" rx="1.5" fill="#5a3a20"/><rect x="-3" y="-34" width="6" height="5" fill="#9a6a38"/><rect x="-4" y="-38.5" width="8" height="2" fill="#c8c8c8"/><circle cx="-11" cy="-33" r="2" fill="#d85060"/><rect x="-13" y="-28" width="26" height="4" rx="2" fill="#2a36b8"/><circle cx="-10" cy="-26" r="3" fill="#3440d0"/><circle cx="10" cy="-26" r="3" fill="#3440d0"/></g><g transform="rotate(90)"><path d="M-14.5,-39.5 L14.5,-39.5 L13.5,-24.5 L-13.5,-24.5 Z" fill="#26241a" stroke="#111" stroke-width="0.8"/><path d="M-13.5,-37 L-4,-37 L-4,-27 L-12.5,-27 Z" fill="#5a5424"/><path d="M4,-37 L13.5,-37 L12.5,-27 L4,-27 Z" fill="#5a5424"/><rect x="-4.5" y="-38.5" width="9" height="11.5" rx="1.5" fill="#5a3a20"/><rect x="-3" y="-34" width="6" height="5" fill="#9a6a38"/><rect x="-4" y="-38.5" width="8" height="2" fill="#c8c8c8"/><circle cx="-11" cy="-33" r="2" fill="#d85060"/><rect x="-13" y="-28" width="26" height="4" rx="2" fill="#2a36b8"/><circle cx="-10" cy="-26" r="3" fill="#3440d0"/><circle cx="10" cy="-26" r="3" fill="#3440d0"/></g><g transform="rotate(180)"><path d="M-14.5,-39.5 L14.5,-39.5 L13.5,-24.5 L-13.5,-24.5 Z" fill="#26241a" stroke="#111" stroke-width="0.8"/><path d="M-13.5,-37 L-4,-37 L-4,-27 L-12.5,-27 Z" fill="#5a5424"/><path d="M4,-37 L13.5,-37 L12.5,-27 L4,-27 Z" fill="#5a5424"/><rect x="-4.5" y="-38.5" width="9" height="11.5" rx="1.5" fill="#5a3a20"/><rect x="-3" y="-34" width="6" height="5" fill="#9a6a38"/><rect x="-4" y="-38.5" width="8" height="2" fill="#c8c8c8"/><circle cx="-11" cy="-33" r="2" fill="#d85060"/><rect x="-13" y="-28" width="26" height="4" rx="2" fill="#2a36b8"/><circle cx="-10" cy="-26" r="3" fill="#3440d0"/><circle cx="10" cy="-26" r="3" fill="#3440d0"/></g><g transform="rotate(270)"><path d="M-14.5,-39.5 L14.5,-39.5 L13.5,-24.5 L-13.5,-24.5 Z" fill="#26241a" stroke="#111" stroke-width="0.8"/><path d="M-13.5,-37 L-4,-37 L-4,-27 L-12.5,-27 Z" fill="#5a5424"/><path d="M4,-37 L13.5,-37 L12.5,-27 L4,-27 Z" fill="#5a5424"/><rect x="-4.5" y="-38.5" width="9" height="11.5" rx="1.5" fill="#5a3a20"/><rect x="-3" y="-34" width="6" height="5" fill="#9a6a38"/><rect x="-4" y="-38.5" width="8" height="2" fill="#c8c8c8"/><circle cx="-11" cy="-33" r="2" fill="#d85060"/><rect x="-13" y="-28" width="26" height="4" rx="2" fill="#2a36b8"/><circle cx="-10" cy="-26" r="3" fill="#3440d0"/><circle cx="10" cy="-26" r="3" fill="#3440d0"/></g><circle r="25" fill="none" stroke="#e0e0e0" stroke-width="1"/><circle r="22.5" fill="#c6c9e6" stroke="#0e0e48" stroke-width="2.6"/><circle r="10" fill="url(#discg)" stroke="#b4b8dc" stroke-width="0.8"/></g>
<g transform="translate(491,600)"><g transform="rotate(0)"><path d="M-14.5,-39.5 L14.5,-39.5 L13.5,-24.5 L-13.5,-24.5 Z" fill="#26241a" stroke="#111" stroke-width="0.8"/><path d="M-13.5,-37 L-4,-37 L-4,-27 L-12.5,-27 Z" fill="#5a5424"/><path d="M4,-37 L13.5,-37 L12.5,-27 L4,-27 Z" fill="#5a5424"/><rect x="-4.5" y="-38.5" width="9" height="11.5" rx="1.5" fill="#5a3a20"/><rect x="-3" y="-34" width="6" height="5" fill="#9a6a38"/><rect x="-4" y="-38.5" width="8" height="2" fill="#c8c8c8"/><circle cx="-11" cy="-33" r="2" fill="#d85060"/><rect x="-13" y="-28" width="26" height="4" rx="2" fill="#2a36b8"/><circle cx="-10" cy="-26" r="3" fill="#3440d0"/><circle cx="10" cy="-26" r="3" fill="#3440d0"/></g><g transform="rotate(90)"><path d="M-14.5,-39.5 L14.5,-39.5 L13.5,-24.5 L-13.5,-24.5 Z" fill="#26241a" stroke="#111" stroke-width="0.8"/><path d="M-13.5,-37 L-4,-37 L-4,-27 L-12.5,-27 Z" fill="#5a5424"/><path d="M4,-37 L13.5,-37 L12.5,-27 L4,-27 Z" fill="#5a5424"/><rect x="-4.5" y="-38.5" width="9" height="11.5" rx="1.5" fill="#5a3a20"/><rect x="-3" y="-34" width="6" height="5" fill="#9a6a38"/><rect x="-4" y="-38.5" width="8" height="2" fill="#c8c8c8"/><circle cx="-11" cy="-33" r="2" fill="#d85060"/><rect x="-13" y="-28" width="26" height="4" rx="2" fill="#2a36b8"/><circle cx="-10" cy="-26" r="3" fill="#3440d0"/><circle cx="10" cy="-26" r="3" fill="#3440d0"/></g><g transform="rotate(180)"><path d="M-14.5,-39.5 L14.5,-39.5 L13.5,-24.5 L-13.5,-24.5 Z" fill="#26241a" stroke="#111" stroke-width="0.8"/><path d="M-13.5,-37 L-4,-37 L-4,-27 L-12.5,-27 Z" fill="#5a5424"/><path d="M4,-37 L13.5,-37 L12.5,-27 L4,-27 Z" fill="#5a5424"/><rect x="-4.5" y="-38.5" width="9" height="11.5" rx="1.5" fill="#5a3a20"/><rect x="-3" y="-34" width="6" height="5" fill="#9a6a38"/><rect x="-4" y="-38.5" width="8" height="2" fill="#c8c8c8"/><circle cx="-11" cy="-33" r="2" fill="#d85060"/><rect x="-13" y="-28" width="26" height="4" rx="2" fill="#2a36b8"/><circle cx="-10" cy="-26" r="3" fill="#3440d0"/><circle cx="10" cy="-26" r="3" fill="#3440d0"/></g><g transform="rotate(270)"><path d="M-14.5,-39.5 L14.5,-39.5 L13.5,-24.5 L-13.5,-24.5 Z" fill="#26241a" stroke="#111" stroke-width="0.8"/><path d="M-13.5,-37 L-4,-37 L-4,-27 L-12.5,-27 Z" fill="#5a5424"/><path d="M4,-37 L13.5,-37 L12.5,-27 L4,-27 Z" fill="#5a5424"/><rect x="-4.5" y="-38.5" width="9" height="11.5" rx="1.5" fill="#5a3a20"/><rect x="-3" y="-34" width="6" height="5" fill="#9a6a38"/><rect x="-4" y="-38.5" width="8" height="2" fill="#c8c8c8"/><circle cx="-11" cy="-33" r="2" fill="#d85060"/><rect x="-13" y="-28" width="26" height="4" rx="2" fill="#2a36b8"/><circle cx="-10" cy="-26" r="3" fill="#3440d0"/><circle cx="10" cy="-26" r="3" fill="#3440d0"/></g><circle r="25" fill="none" stroke="#e0e0e0" stroke-width="1"/><circle r="22.5" fill="#c6c9e6" stroke="#0e0e48" stroke-width="2.6"/><circle r="10" fill="url(#discg)" stroke="#b4b8dc" stroke-width="0.8"/></g>
<g transform="translate(703.5,599.5)"><g transform="rotate(0)"><path d="M-14.5,-39.5 L14.5,-39.5 L13.5,-24.5 L-13.5,-24.5 Z" fill="#26241a" stroke="#111" stroke-width="0.8"/><path d="M-13.5,-37 L-4,-37 L-4,-27 L-12.5,-27 Z" fill="#5a5424"/><path d="M4,-37 L13.5,-37 L12.5,-27 L4,-27 Z" fill="#5a5424"/><rect x="-4.5" y="-38.5" width="9" height="11.5" rx="1.5" fill="#5a3a20"/><rect x="-3" y="-34" width="6" height="5" fill="#9a6a38"/><rect x="-4" y="-38.5" width="8" height="2" fill="#c8c8c8"/><circle cx="-11" cy="-33" r="2" fill="#d85060"/><rect x="-13" y="-28" width="26" height="4" rx="2" fill="#2a36b8"/><circle cx="-10" cy="-26" r="3" fill="#3440d0"/><circle cx="10" cy="-26" r="3" fill="#3440d0"/></g><g transform="rotate(90)"><path d="M-14.5,-39.5 L14.5,-39.5 L13.5,-24.5 L-13.5,-24.5 Z" fill="#26241a" stroke="#111" stroke-width="0.8"/><path d="M-13.5,-37 L-4,-37 L-4,-27 L-12.5,-27 Z" fill="#5a5424"/><path d="M4,-37 L13.5,-37 L12.5,-27 L4,-27 Z" fill="#5a5424"/><rect x="-4.5" y="-38.5" width="9" height="11.5" rx="1.5" fill="#5a3a20"/><rect x="-3" y="-34" width="6" height="5" fill="#9a6a38"/><rect x="-4" y="-38.5" width="8" height="2" fill="#c8c8c8"/><circle cx="-11" cy="-33" r="2" fill="#d85060"/><rect x="-13" y="-28" width="26" height="4" rx="2" fill="#2a36b8"/><circle cx="-10" cy="-26" r="3" fill="#3440d0"/><circle cx="10" cy="-26" r="3" fill="#3440d0"/></g><g transform="rotate(180)"><path d="M-14.5,-39.5 L14.5,-39.5 L13.5,-24.5 L-13.5,-24.5 Z" fill="#26241a" stroke="#111" stroke-width="0.8"/><path d="M-13.5,-37 L-4,-37 L-4,-27 L-12.5,-27 Z" fill="#5a5424"/><path d="M4,-37 L13.5,-37 L12.5,-27 L4,-27 Z" fill="#5a5424"/><rect x="-4.5" y="-38.5" width="9" height="11.5" rx="1.5" fill="#5a3a20"/><rect x="-3" y="-34" width="6" height="5" fill="#9a6a38"/><rect x="-4" y="-38.5" width="8" height="2" fill="#c8c8c8"/><circle cx="-11" cy="-33" r="2" fill="#d85060"/><rect x="-13" y="-28" width="26" height="4" rx="2" fill="#2a36b8"/><circle cx="-10" cy="-26" r="3" fill="#3440d0"/><circle cx="10" cy="-26" r="3" fill="#3440d0"/></g><g transform="rotate(270)"><path d="M-14.5,-39.5 L14.5,-39.5 L13.5,-24.5 L-13.5,-24.5 Z" fill="#26241a" stroke="#111" stroke-width="0.8"/><path d="M-13.5,-37 L-4,-37 L-4,-27 L-12.5,-27 Z" fill="#5a5424"/><path d="M4,-37 L13.5,-37 L12.5,-27 L4,-27 Z" fill="#5a5424"/><rect x="-4.5" y="-38.5" width="9" height="11.5" rx="1.5" fill="#5a3a20"/><rect x="-3" y="-34" width="6" height="5" fill="#9a6a38"/><rect x="-4" y="-38.5" width="8" height="2" fill="#c8c8c8"/><circle cx="-11" cy="-33" r="2" fill="#d85060"/><rect x="-13" y="-28" width="26" height="4" rx="2" fill="#2a36b8"/><circle cx="-10" cy="-26" r="3" fill="#3440d0"/><circle cx="10" cy="-26" r="3" fill="#3440d0"/></g><circle r="25" fill="none" stroke="#e0e0e0" stroke-width="1"/><circle r="22.5" fill="#c6c9e6" stroke="#0e0e48" stroke-width="2.6"/><circle r="10" fill="url(#discg)" stroke="#b4b8dc" stroke-width="0.8"/></g>
<path d="M491.6,-40 L706.4,-40 L846.5,189 L846.5,523 L727.22,720 L470.78,720 L351,523 L351,189 Z M519,42 L679,42 L792,225 L792,488 L679,671 L519,671 L406,488 L406,225 Z" fill="#2c2c2c" fill-rule="evenodd" stroke="#121212" stroke-width="1.5" stroke-linejoin="round"/>
<clipPath id="hullclip"><polygon points="491.6,-40 706.4,-40 846.5,189 846.5,523 727.22,720 470.78,720 351,523 351,189"/></clipPath>
<g clip-path="url(#hullclip)">
<rect x="519" y="671" width="161" height="13" fill="#393939" stroke="none" stroke-width="1" />
<line x1="519" y1="671.8" x2="680" y2="671.8" stroke="#0e0e0e" stroke-width="1.8" />
<line x1="519" y1="677.6" x2="680" y2="677.6" stroke="#161616" stroke-width="1.2" />
<rect x="519" y="678.5" width="161" height="5" fill="#333333" stroke="none" stroke-width="1" />
<polyline points="519,42 406,225 406,488 519,671" fill="none" stroke="#101010" stroke-width="2" />
<polyline points="679,42 792,225 792,488 679,671" fill="none" stroke="#101010" stroke-width="2" />
<polyline points="512.5,42 402,225 402,488 512.5,671" fill="none" stroke="#3e3e3e" stroke-width="1" />
<polyline points="685.5,42 796,225 796,488 685.5,671" fill="none" stroke="#3e3e3e" stroke-width="1" />
<polyline points="356,190 356,520" fill="none" stroke="#1a1a1a" stroke-width="1" />
<polyline points="842,190 842,520" fill="none" stroke="#1a1a1a" stroke-width="1" />
<polyline points="372.5,190 372.5,520" fill="none" stroke="#161616" stroke-width="1.2" />
<polyline points="825.5,190 825.5,520" fill="none" stroke="#161616" stroke-width="1.2" />
<polyline points="375.2,190 375.2,520" fill="none" stroke="#3c3c3c" stroke-width="1" />
<polyline points="822.8,190 822.8,520" fill="none" stroke="#3c3c3c" stroke-width="1" />
<polyline points="397,190 397,520" fill="none" stroke="#1a1a1a" stroke-width="1.2" />
<polyline points="801,190 801,520" fill="none" stroke="#1a1a1a" stroke-width="1.2" />
<polyline points="401,190 401,520" fill="none" stroke="#3a3a3a" stroke-width="1" />
<polyline points="797,190 797,520" fill="none" stroke="#3a3a3a" stroke-width="1" />
<polyline points="403.5,190 403.5,520" fill="none" stroke="#181818" stroke-width="1" />
<polyline points="794.5,190 794.5,520" fill="none" stroke="#181818" stroke-width="1" />
<polygon points="484.57,-5 492.57,-5 396.75,150 374.92,179 370.92,179" fill="#8287ad" stroke="#141414" stroke-width="1" />
<polygon points="713.92,-5 707.92,-5 821.09,179 826.09,179" fill="#8287ad" stroke="#141414" stroke-width="1" />
<polygon points="501.4,40 514.4,40 412.93,205 399.93,205" fill="#353535" stroke="none" stroke-width="1" />
<polygon points="696.6,40 683.6,40 785.08,205 798.08,205" fill="#353535" stroke="none" stroke-width="1" />
<polygon points="494.07,-5 505.07,-5 391.3,180 380.3,180" fill="#323232" stroke="none" stroke-width="1" />
<polygon points="703.92,-5 692.92,-5 806.7,180 817.7,180" fill="#323232" stroke="none" stroke-width="1" />
<polyline points="474.57,-5 360.8,180" fill="none" stroke="#181818" stroke-width="1" />
<polyline points="723.42,-5 837.2,180" fill="none" stroke="#181818" stroke-width="1" />
<polyline points="479.07,-5 365.3,180" fill="none" stroke="#383838" stroke-width="0.8" />
<polyline points="718.92,-5 832.7,180" fill="none" stroke="#383838" stroke-width="0.8" />
<polyline points="497.07,-5 383.3,180" fill="none" stroke="#161616" stroke-width="1" />
<polyline points="700.92,-5 814.7,180" fill="none" stroke="#161616" stroke-width="1" />
<polyline points="501.07,-5 387.3,180" fill="none" stroke="#404040" stroke-width="0.8" />
<polyline points="696.92,-5 810.7,180" fill="none" stroke="#404040" stroke-width="0.8" />
<polyline points="506.07,-5 392.3,180" fill="none" stroke="#151515" stroke-width="1.2" />
<polyline points="691.92,-5 805.7,180" fill="none" stroke="#151515" stroke-width="1.2" />
<polyline points="528.58,-5 393.27,215" fill="none" stroke="#141414" stroke-width="1.2" />
<polyline points="669.42,-5 804.73,215" fill="none" stroke="#141414" stroke-width="1.2" />
<polyline points="533.08,-5 397.77,215" fill="none" stroke="#262626" stroke-width="1" />
<polyline points="664.92,-5 800.23,215" fill="none" stroke="#262626" stroke-width="1" />
<polyline points="542.08,-5 406.77,215" fill="none" stroke="#151515" stroke-width="1.2" />
<polyline points="655.92,-5 791.23,215" fill="none" stroke="#151515" stroke-width="1.2" />
<polyline points="545.08,-5 409.77,215" fill="none" stroke="#3a3a3a" stroke-width="0.8" />
<polyline points="652.92,-5 788.23,215" fill="none" stroke="#3a3a3a" stroke-width="0.8" />
<polyline points="417,141.6 448,135" fill="none" stroke="#161616" stroke-width="1" />
<polyline points="781,141.6 750,135" fill="none" stroke="#161616" stroke-width="1" />
<polyline points="378,190 417,184.4" fill="none" stroke="#161616" stroke-width="1" />
<polyline points="820,190 781,184.4" fill="none" stroke="#161616" stroke-width="1" />
<polyline points="356,190 373.5,185 400,190" fill="none" stroke="#181818" stroke-width="1" />
<polyline points="842,190 824.5,185 798,190" fill="none" stroke="#181818" stroke-width="1" />
<polygon points="376.8,207.4 398.8,215 397.7,224" fill="#888888" stroke="none" stroke-width="1" />
<polygon points="507,0 512,0 518,28 516,28" fill="#ababab" stroke="none" stroke-width="1" />
<polygon points="373.14,515 385.14,515 497.62,700 485.62,700" fill="#333333" stroke="none" stroke-width="1" />
<polygon points="824.86,515 812.86,515 700.38,700 712.38,700" fill="#333333" stroke="none" stroke-width="1" />
<polygon points="396.98,495 407.98,495 532.62,700 521.62,700" fill="#333333" stroke="none" stroke-width="1" />
<polygon points="801.02,495 790.02,495 665.38,700 676.38,700" fill="#333333" stroke="none" stroke-width="1" />
<polyline points="344.56,505 463.12,700" fill="none" stroke="#181818" stroke-width="1" />
<polyline points="853.44,505 734.88,700" fill="none" stroke="#181818" stroke-width="1" />
<polyline points="348.06,505 466.62,700" fill="none" stroke="#3a3a3a" stroke-width="0.8" />
<polyline points="849.94,505 731.38,700" fill="none" stroke="#3a3a3a" stroke-width="0.8" />
<polyline points="367.06,505 485.62,700" fill="none" stroke="#161616" stroke-width="1" />
<polyline points="830.94,505 712.38,700" fill="none" stroke="#161616" stroke-width="1" />
<polyline points="373.06,505 491.62,700" fill="none" stroke="#262626" stroke-width="1" />
<polyline points="824.94,505 706.38,700" fill="none" stroke="#262626" stroke-width="1" />
<polyline points="379.06,505 497.62,700" fill="none" stroke="#161616" stroke-width="1" />
<polyline points="818.94,505 700.38,700" fill="none" stroke="#161616" stroke-width="1" />
<polyline points="403.06,505 521.62,700" fill="none" stroke="#161616" stroke-width="1" />
<polyline points="794.94,505 676.38,700" fill="none" stroke="#161616" stroke-width="1" />
<polyline points="408.06,505 526.62,700" fill="none" stroke="#262626" stroke-width="1" />
<polyline points="789.94,505 671.38,700" fill="none" stroke="#262626" stroke-width="1" />
<polyline points="414.06,505 532.62,700" fill="none" stroke="#161616" stroke-width="1" />
<polyline points="783.94,505 665.38,700" fill="none" stroke="#161616" stroke-width="1" />
<polyline points="351,523 376,505 406,490" fill="none" stroke="#181818" stroke-width="1" />
<polyline points="847,523 822,505 792,490" fill="none" stroke="#181818" stroke-width="1" />
<polygon points="364.5,525 376,521 483.12,700 470.62,700" fill="#8287ad" stroke="#121212" stroke-width="1.4" />
<polygon points="833.5,525 822,521 714.88,700 727.38,700" fill="#8287ad" stroke="#121212" stroke-width="1.4" />
<polygon points="387,512 403,509 518.62,700 500.12,700" fill="#8287ad" stroke="#121212" stroke-width="1.4" />
<polygon points="811,512 795,509 679.38,700 697.88,700" fill="#8287ad" stroke="#121212" stroke-width="1.4" />
</g>
<polygon points="519.7,1.7 678.6,1.7 671.8,22 527.4,22" fill="#8c90b6" stroke="none" stroke-width="1" />
<line x1="519" y1="1" x2="679" y2="1" stroke="#1a1a1a" stroke-width="2" />
<polyline points="519.7,1.7 527.4,22" fill="none" stroke="#1a1a1a" stroke-width="1.2" />
<polyline points="678.6,1.7 671.8,22" fill="none" stroke="#1a1a1a" stroke-width="1.2" />
<path d="M539.5,22 A12.5,12.5 0 0 1 564.5,22 Z" fill="#c3c6e6" stroke="#0d0d40" stroke-width="2"/>
<circle cx="552" cy="16" r="3" fill="#d8daf2" stroke="none" stroke-width="1" />
<path d="M633.1,22 A12.5,12.5 0 0 1 658.1,22 Z" fill="#c3c6e6" stroke="#0d0d40" stroke-width="2"/>
<circle cx="645.6" cy="16" r="3" fill="#d8daf2" stroke="none" stroke-width="1" />
<rect x="590" y="15" width="19" height="7" fill="#6a4a40" stroke="none" stroke-width="1" />
<rect x="596.5" y="13" width="8" height="9" fill="#3a50c8" stroke="none" stroke-width="1" />
<circle cx="600.5" cy="10" r="3.5" fill="#2a2a5a" stroke="none" stroke-width="1" />
<rect x="519" y="22" width="161" height="20" fill="#3a3a3a" stroke="none" stroke-width="1" />
<line x1="519" y1="22.5" x2="680" y2="22.5" stroke="#141414" stroke-width="1.2" />
<line x1="519" y1="28.5" x2="680" y2="28.5" stroke="#1e1e1e" stroke-width="1" />
<line x1="519" y1="32.5" x2="680" y2="32.5" stroke="#252525" stroke-width="1" />
<line x1="519" y1="35.5" x2="680" y2="35.5" stroke="#4a4a4a" stroke-width="1" />
<line x1="519" y1="41.3" x2="680" y2="41.3" stroke="#121212" stroke-width="1.6" />
<g opacity="0.8">
<line x1="612" y1="83" x2="855" y2="87.5" stroke="#444444" stroke-width="1" />
<polyline points="324,236 350,236.3 526,240.8" fill="none" stroke="#444444" stroke-width="1" />
<polyline points="940,248.5 850,248.8 602,250.2" fill="none" stroke="#444444" stroke-width="1" />
<polyline points="295,342.3 303,342.5 400,357" fill="none" stroke="#444444" stroke-width="1" />
<line x1="605" y1="347.2" x2="950" y2="348" stroke="#444444" stroke-width="1" />
<line x1="790" y1="363" x2="900" y2="363" stroke="#444444" stroke-width="1" />
<line x1="671" y1="452.8" x2="888" y2="452.3" stroke="#444444" stroke-width="1" />
<line x1="598" y1="505" x2="926" y2="504" stroke="#444444" stroke-width="1" />
<line x1="323" y1="499" x2="480" y2="508.5" stroke="#444444" stroke-width="1" />
</g>
<path d="M488,509 L479.5,506 L479,511.5 Z" fill="#303030"/>
<text x="861" y="92.3" textLength="88.5" lengthAdjust="spacingAndGlyphs">conference room</text>
<text x="41.5" y="241.5" textLength="277.5" lengthAdjust="spacingAndGlyphs">gallery with operational control of the command staff</text>
<text x="949" y="253.4" textLength="159.5" lengthAdjust="spacingAndGlyphs">level 1 of the command bridge</text>
<text x="949" y="268" textLength="185" lengthAdjust="spacingAndGlyphs">with operations station from level 1</text>
<text x="187" y="347.3" textLength="101" lengthAdjust="spacingAndGlyphs">secondary consoles</text>
<text x="955.2" y="352.7" textLength="98.4" lengthAdjust="spacingAndGlyphs">primary holo globe</text>
<text x="906" y="368.2" textLength="192.7" lengthAdjust="spacingAndGlyphs">logistics department(command staff)</text>
<text x="893.8" y="456.8" textLength="277.5" lengthAdjust="spacingAndGlyphs">gallery with operational control of the command staff</text>
<text x="932.7" y="509.5" textLength="172.6" lengthAdjust="spacingAndGlyphs">command podium(the mountain)</text>
<text x="58.5" y="504.6" textLength="257.5" lengthAdjust="spacingAndGlyphs">Four multifunction console for the command staff</text>
</svg></body></html>
